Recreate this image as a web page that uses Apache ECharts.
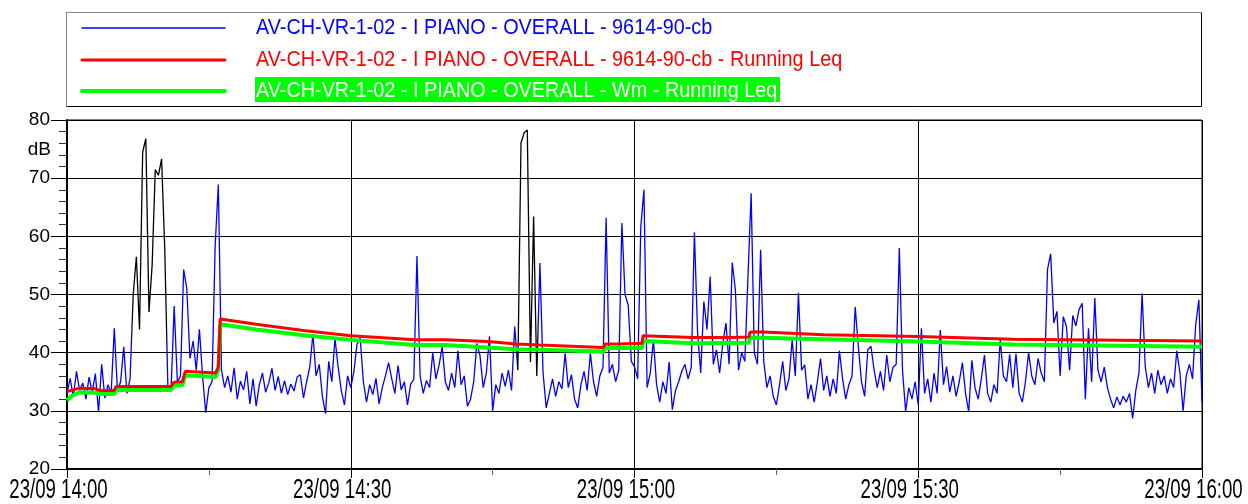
<!DOCTYPE html>
<html>
<head>
<meta charset="utf-8">
<title>AV-CH-VR-1-02 - I PIANO - OVERALL</title>
<script src="https://cdn.jsdelivr.net/npm/echarts@6/dist/echarts.min.js"></script>
<style>
  html, body { margin: 0; padding: 0; background: #fff; }
  #chart { width: 1248px; height: 504px; }
</style>
</head>
<body>
<div id="chart"></div>
<script>
  // minutes after 23/09 14:00
  const sampleStep = 1 / 3 // one reading every 20 s
  const overallDb = [
    33.0, 35.6, 32.4, 36.8, 33.5, 34.8, 32.0, 35.8, 33.2, 36.4,
    29.8, 38.0, 32.2, 34.5, 33.0, 44.2, 33.5, 35.0, 41.0, 33.0,
    35.5, 50.0, 56.5, 44.0, 74.5, 76.8, 47.0, 55.0, 71.5, 70.5,
    73.3, 58.0, 34.0, 33.5, 48.0, 35.0, 36.0, 54.3, 51.0, 39.0,
    42.0, 37.0, 44.0, 36.0, 29.7, 34.0, 35.0, 58.5, 68.9, 37.0,
    34.0, 36.0, 33.2, 37.4, 32.0, 35.1, 33.6, 36.8, 31.2, 35.5,
    30.8, 34.5, 36.5, 33.2, 34.8, 37.3, 33.5, 35.9, 33.0, 35.2,
    32.8, 34.6, 33.4, 35.8, 36.2, 32.2, 35.0, 37.5, 43.2, 36.0,
    38.0, 32.5, 29.5, 38.5, 35.0, 42.5, 37.5, 33.5, 31.0, 36.0,
    34.0, 36.8, 41.5, 42.5, 35.0, 31.5, 34.5, 32.8, 35.6, 31.2,
    34.0, 36.0, 38.3, 35.5, 33.0, 37.8, 33.6, 35.0, 31.0, 34.6,
    35.4, 56.6, 36.0, 33.0, 35.2, 34.0, 40.0, 35.5, 37.8, 41.0,
    35.0, 33.5, 36.5, 34.0, 40.3, 34.5, 36.0, 30.8, 32.0, 35.0,
    41.6, 39.5, 34.0, 36.5, 42.8, 30.0, 34.5, 33.0, 36.5, 34.2,
    37.0, 33.5, 44.5, 37.0, 76.1, 77.8, 78.3, 38.4, 63.4, 36.0,
    55.4, 36.5, 30.5, 33.0, 35.5, 32.5, 35.0, 33.8, 39.9, 34.0,
    36.2, 32.0, 30.5, 34.5, 36.8, 33.5, 39.9, 35.0, 32.5, 36.0,
    37.5, 63.2, 36.5, 38.0, 35.0, 37.0, 62.3, 50.0, 48.2, 38.5,
    37.6, 35.5, 61.7, 68.0, 34.0, 36.5, 42.2, 34.5, 31.5, 35.0,
    33.0, 38.4, 30.2, 33.5, 35.0, 36.8, 38.0, 35.5, 37.5, 60.7,
    43.6, 36.5, 48.8, 44.0, 53.1, 38.0, 40.5, 36.5, 41.6, 45.1,
    38.0, 55.5, 50.8, 37.0, 40.0, 38.5, 53.2, 67.4, 40.0, 38.0,
    57.7, 38.5, 34.0, 36.0, 32.5, 31.0, 34.5, 38.5, 33.5, 35.5,
    42.2, 36.0, 50.3, 37.0, 37.9, 32.0, 34.5, 31.5, 35.0, 39.0,
    33.5, 36.0, 32.5, 35.5, 33.0, 40.3, 35.5, 32.0, 34.5, 36.0,
    47.9, 41.0, 35.0, 32.5, 40.5, 41.1, 37.0, 34.0, 36.8, 33.5,
    39.6, 35.0, 37.5, 38.0, 58.0, 37.0, 29.9, 34.0, 32.0, 35.0,
    31.0, 44.2, 33.0, 35.5, 31.5, 36.5, 33.0, 43.9, 34.5, 37.6,
    33.2, 36.0, 32.5, 35.0, 38.3, 33.0, 29.8, 38.7, 34.0, 32.0,
    35.5, 39.6, 33.0, 31.5, 34.5, 33.0, 42.2, 36.0, 35.0, 39.7,
    34.0, 39.8, 33.0, 31.5, 35.0, 40.0, 36.0, 34.5, 39.0, 36.5,
    35.0, 54.3, 57.0, 45.1, 47.1, 36.0, 46.2, 44.5, 37.0, 46.4,
    44.6, 47.4, 48.5, 32.0, 44.2, 35.0, 49.4, 37.0, 35.0, 37.5,
    34.0, 32.0, 30.5, 32.4, 31.0, 32.5, 31.5, 33.0, 28.7, 33.5,
    36.5, 50.2, 37.6, 34.0, 36.5, 33.0, 37.0, 34.5, 36.0, 33.0,
    35.5, 34.0, 40.3, 36.5, 30.0, 36.0, 38.0, 35.5, 44.8, 49.1,
    31.5
  ]
  // periods drawn in black on the overall trace
  const excludedSpans = [[6.9, 10.55], [47.55, 49.85]]
  // [minute, dB]
  const runningLeq = [
    [0, 33.3], [1.3, 33.9], [3.0, 33.8], [3.4, 33.5], [5.0, 33.5], [5.2, 34.2],
    [11.0, 34.2], [11.3, 34.9], [12.2, 35.0], [12.5, 36.8], [15.7, 36.5], [16.0, 37.5],
    [16.2, 45.8], [20, 44.9], [25, 43.8], [30, 42.9], [36.8, 42.2], [37.0, 42.5],
    [40, 42.2], [44.5, 41.9], [44.6, 42.1], [47.5, 41.5], [50, 41.3], [56.7, 40.9],
    [56.9, 41.5], [58.3, 41.5], [58.5, 41.7], [60.8, 41.6], [60.9, 42.9], [66.2, 42.6],
    [66.4, 42.9], [70.2, 42.6], [70.3, 42.9], [72.1, 42.7], [72.2, 43.5], [73, 43.6],
    [80, 43.1], [90, 42.8], [100, 42.3], [120, 42.0]
  ]
  const wmRunningLeq = [
    [0, 31.8], [0.5, 32.6], [1.3, 33.2], [3.0, 33.1], [3.4, 32.9], [5.0, 32.9], [5.2, 33.6],
    [11.0, 33.6], [11.3, 34.3], [12.2, 34.4], [12.5, 36.1], [15.7, 35.8], [16.0, 37.0],
    [16.2, 44.9], [20, 44.0], [25, 43.0], [30, 42.2], [36.8, 41.3], [37.0, 41.6],
    [40, 41.3], [47.5, 40.6], [50, 40.5], [56.7, 40.2], [56.9, 40.8], [58.3, 40.8],
    [58.5, 41.0], [60.8, 40.8], [60.9, 42.0], [66.2, 41.6], [66.4, 41.9], [72.1, 41.7],
    [72.2, 42.6], [80, 42.3], [90, 41.9], [100, 41.4], [120, 41.0]
  ]
  const tickMinutes = [0, 30, 60, 90, 120]
  const tickLabels = ['23/09 14:00', '23/09 14:30', '23/09 15:00', '23/09 15:30', '23/09 16:00']
  const seriesNames = [
    'AV-CH-VR-1-02 - I PIANO - OVERALL - 9614-90-cb',
    'AV-CH-VR-1-02 - I PIANO - OVERALL - 9614-90-cb - Running Leq',
    'AV-CH-VR-1-02 - I PIANO - OVERALL - Wm - Running Leq'
  ]

  const FONT = '"Liberation Sans", Arial, sans-serif'
  const BLUE = '#0000ff'
  const RED = '#ff0000'
  const GREEN = '#00ff00'

  const overallData = overallDb.map((v, i) => [i * sampleStep, v])

  const pieces = []
  let from = null
  excludedSpans.forEach(span => {
    pieces.push(from === null ? { lt: span[0], color: BLUE } : { gt: from, lt: span[0], color: BLUE })
    pieces.push({ gte: span[0], lte: span[1], color: '#000' })
    from = span[1]
  })
  pieces.push({ gt: from, color: BLUE })

  const chart = echarts.init(document.getElementById('chart'))
  chart.setOption({
    animation: false,
    grid: {
      left: 67,
      right: 46,
      top: 120,
      bottom: 35,
      show: true,
      borderColor: '#000',
      borderWidth: 1
    },
    xAxis: {
      type: 'value',
      min: 0,
      max: 120,
      interval: 30,
      axisLine: { onZero: false, lineStyle: { color: '#000', width: 2 } },
      axisTick: { length: 9, lineStyle: { color: '#000' } },
      minorTick: { show: true, splitNumber: 2, length: 6, lineStyle: { color: '#666' } },
      axisLabel: { show: false },
      splitLine: { show: true, lineStyle: { color: '#000', width: 1 } }
    },
    yAxis: {
      type: 'value',
      min: 20,
      max: 80,
      interval: 10,
      axisLine: { show: true, onZero: false, lineStyle: { color: '#000', width: 2 } },
      axisTick: { show: true, length: 16, lineStyle: { color: '#000' } },
      minorTick: { show: true, splitNumber: 5, length: 8, lineStyle: { color: '#333' } },
      axisLabel: { margin: 17, color: '#000', fontSize: 19, fontFamily: FONT },
      splitLine: { show: true, lineStyle: { color: '#000', width: 1 } }
    },
    visualMap: {
      show: false,
      type: 'piecewise',
      seriesIndex: 0,
      dimension: 0,
      pieces: pieces
    },
    series: [
      {
        name: seriesNames[0],
        type: 'line',
        data: overallData,
        symbol: 'none',
        lineStyle: { width: 1.3 },
        z: 2
      },
      {
        name: seriesNames[2],
        type: 'line',
        data: wmRunningLeq,
        symbol: 'none',
        color: GREEN,
        lineStyle: { width: 4, color: GREEN },
        z: 3
      },
      {
        name: seriesNames[1],
        type: 'line',
        data: runningLeq,
        symbol: 'none',
        color: RED,
        lineStyle: { width: 3, color: RED },
        z: 4
      }
    ]
  })

  // legend box + condensed axis labels, placed after the axes exist
  const legendRows = [
    { y: 28, color: BLUE, width: 1.5, text: seriesNames[0], fill: BLUE },
    { y: 60, color: RED, width: 3, text: seriesNames[1], fill: RED },
    { y: 91, color: GREEN, width: 4, text: seriesNames[2], fill: '#fff', bg: GREEN }
  ]
  const graphic = [
    {
      type: 'rect',
      shape: { x: 66.5, y: 12.5, width: 1135, height: 94 },
      style: { fill: '#fff', stroke: '#000', lineWidth: 1 },
      z: 0
    },
    {
      type: 'polyline',
      shape: { points: [[66.5, 106.5], [66.5, 12.5], [1201.5, 12.5]] },
      style: { stroke: '#888', lineWidth: 1, fill: null },
      z: 1
    }
  ]
  legendRows.forEach(row => {
    graphic.push({
      type: 'line',
      shape: { x1: 82, y1: row.y, x2: 225, y2: row.y },
      style: { stroke: row.color, lineWidth: row.width, lineCap: 'round' },
      z: 2
    })
    if (row.bg) {
      graphic.push({
        type: 'rect',
        shape: { x: 255, y: row.y - 14, width: 525, height: 25 },
        style: { fill: row.bg },
        z: 2
      })
    }
    graphic.push({
      type: 'text',
      x: 256,
      y: row.y,
      scaleX: 0.9,
      style: { text: row.text, font: '22px ' + FONT, fill: row.fill, align: 'left', verticalAlign: 'middle' },
      z: 3
    })
  })
  tickMinutes.forEach((m, k) => {
    graphic.push({
      type: 'text',
      x: chart.convertToPixel({ xAxisIndex: 0 }, m) - 8.5,
      y: 491,
      scaleX: 0.69,
      style: { text: tickLabels[k], font: '27px ' + FONT, fill: '#000', align: 'center', verticalAlign: 'middle' },
      z: 3
    })
  })
  graphic.push({
    type: 'text',
    x: 51,
    y: chart.convertToPixel({ yAxisIndex: 0 }, 74.8),
    style: { text: 'dB', font: '19px ' + FONT, fill: '#000', align: 'right', verticalAlign: 'middle' },
    z: 3
  })
  chart.setOption({ graphic: graphic })
</script>
</body>
</html>
